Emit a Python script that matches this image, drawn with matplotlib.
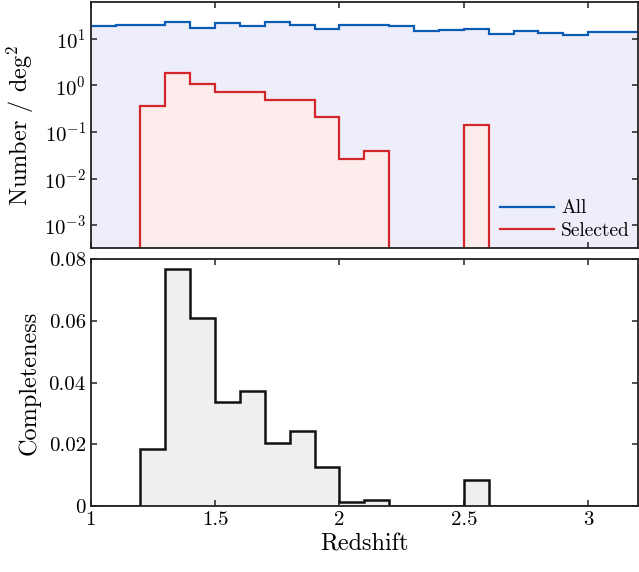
import numpy as np
import matplotlib
matplotlib.use("Agg")
import matplotlib.pyplot as plt

plt.rcParams['font.family'] = 'serif'
plt.rcParams['font.serif'] = ['cmr10', 'DejaVu Serif']
plt.rcParams['mathtext.fontset'] = 'cm'
plt.rcParams['axes.formatter.use_mathtext'] = True
plt.rcParams['axes.unicode_minus'] = False

edges = np.round(np.arange(1.0, 3.2001, 0.1), 2)
all_density = [19.1, 20.4, 19.8, 23.3, 17.1, 21.9, 18.9, 23.7, 20.4, 16.5, 20.1,
               19.8, 18.9, 14.9, 15.9, 16.3, 12.9, 14.9, 13.1, 12.2, 14.0, 14.0]
sel_density = [0, 0, 0.366, 1.85, 1.10, 0.73, 0.71, 0.48, 0.49, 0.209, 0.0257,
               0.0394, 0, 0, 0, 0.141, 0, 0, 0, 0, 0, 0]
completeness = [0, 0, 0.0184, 0.0767, 0.0610, 0.0336, 0.0374, 0.0204, 0.0242,
                0.0126, 0.0013, 0.0020, 0, 0, 0, 0.0084, 0, 0, 0, 0, 0, 0]

blue = '#0b5cb5'
red = '#d4252b'
tiny = 1e-8

fig = plt.figure(figsize=(6.39, 5.72), dpi=100)
ax1 = fig.add_axes([0.1419, 0.5659, 0.8565, 0.4311])
ax2 = fig.add_axes([0.1419, 0.1154, 0.8565, 0.4313])

tfs = 15
lfs = 17.5
ax1.set_yscale('log')
ax1.stairs(all_density, edges, baseline=tiny, fill=True, color='#eeeefa', zorder=1)
ax1.stairs(all_density, edges, baseline=None, color=blue, lw=1.6, zorder=3, label='All')
sel = np.array(sel_density, dtype=float)
sel_plot = np.where(sel > 0, sel, tiny)
ax1.stairs(sel_plot, edges, baseline=tiny, fill=True, color='#fcecec', zorder=2)
ax1.stairs(sel_plot, edges, baseline=tiny, color=red, lw=1.6, zorder=3)
ax1.plot([], [], color=red, lw=1.6, label='Selected')
ax1.set_xlim(1, 3.2)
ax1.set_ylim(10**-3.5, 10**1.8)
ax1.set_yticks([1e-3, 1e-2, 1e-1, 1, 10])
ax1.yaxis.set_minor_locator(matplotlib.ticker.NullLocator())
ax1.set_xticks([1, 1.5, 2, 2.5, 3])
ax1.tick_params(labelbottom=False)
ax1.set_ylabel(r'Number / deg$^2$', fontsize=lfs, labelpad=6)
leg = ax1.legend(loc='lower right', frameon=False, fontsize=14, handlelength=2.8,
                 borderaxespad=0.02, labelspacing=0.25, handletextpad=0.35)

ax2.stairs(completeness, edges, baseline=0, fill=True, color='#efefef', zorder=1)
ax2.stairs(completeness, edges, baseline=0, color='#111111', lw=1.8, zorder=3)
ax2.set_xlim(1, 3.2)
ax2.set_ylim(0, 0.08)
ax2.set_yticks([0, 0.02, 0.04, 0.06, 0.08])
ax2.set_yticklabels(['0', '0.02', '0.04', '0.06', '0.08'])
ax2.set_xticks([1, 1.5, 2, 2.5, 3])
ax2.set_xticklabels(['1', '1.5', '2', '2.5', '3'])
ax2.set_ylabel('Completeness', fontsize=lfs, labelpad=6)
ax2.set_xlabel('Redshift', fontsize=lfs, labelpad=3)

for ax in (ax1, ax2):
    ax.tick_params(which='both', direction='in', top=True, right=True,
                   labelsize=tfs, length=4.5, width=1.1, color='#222222')
    for s in ax.spines.values():
        s.set_linewidth(1.3)
        s.set_color('#222222')
        s.set_zorder(5)

fig.savefig('out.png', dpi=100)
